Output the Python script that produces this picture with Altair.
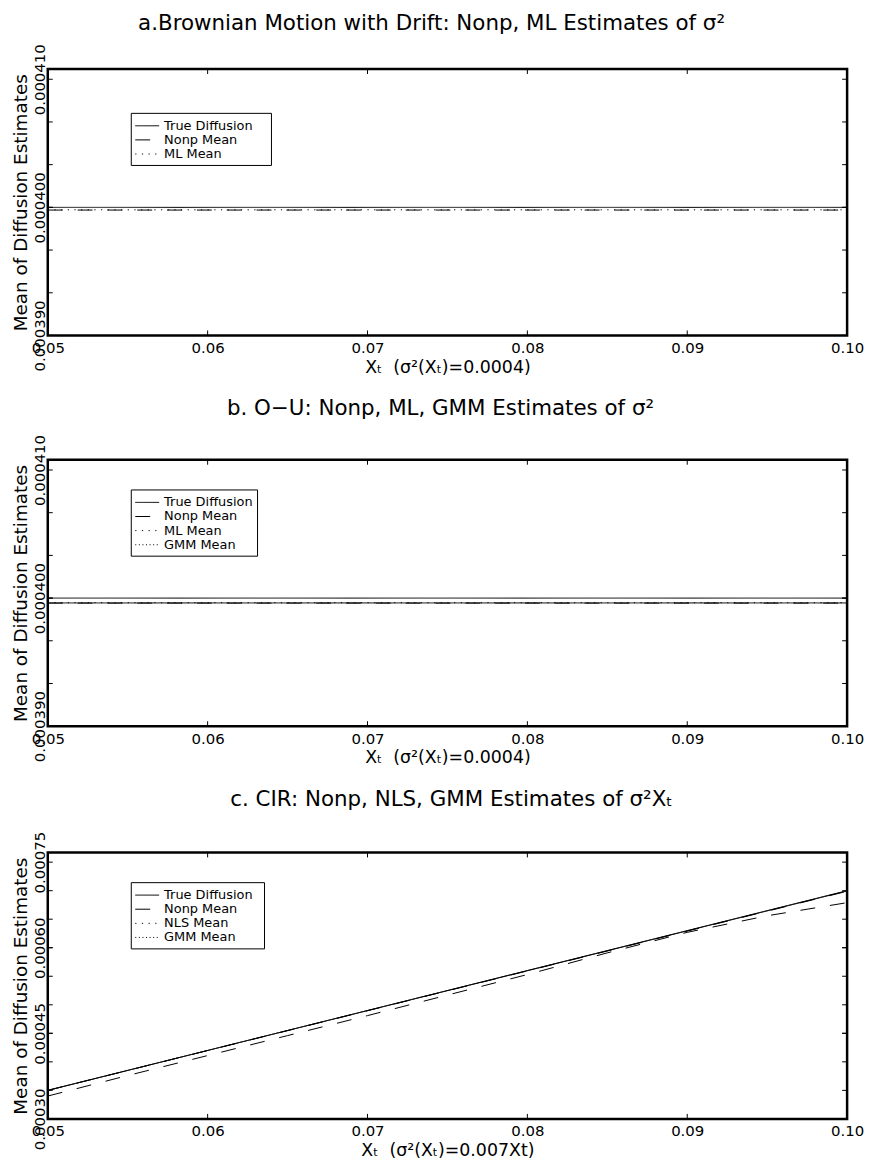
import altair as alt
import pandas as pd

FONT = "DejaVu Sans"
W, H = 804, 268
EXT = 10  # px of frame above the top labelled value

# ---------------- data ----------------
x_ends = [0.05, 0.10]

a_true = [0.00040, 0.00040]
a_nonp = [0.00039979, 0.00039979]
a_ml = [0.00039981, 0.00039981]

b_true = [0.00040, 0.00040]
b_nonp = [0.00039961, 0.00039961]
b_ml = [0.00039964, 0.00039964]
b_gmm = [0.00039962, 0.00039962]

c_x = [0.05, 0.055, 0.06, 0.065, 0.07, 0.075, 0.08, 0.085, 0.09, 0.095, 0.10]
c_nonp = [0.000340, 0.000376, 0.000411, 0.000446, 0.000481, 0.000517,
          0.000553, 0.000591, 0.000627, 0.000656, 0.000679]
c_true = [0.00035, 0.00070]
c_nls = [0.00035, 0.000699]
c_gmm = [0.00035, 0.0006995]

x_labels = [0.05, 0.06, 0.07, 0.08, 0.09, 0.10]
x_minor = [0.06, 0.07, 0.08, 0.09]
ab_ylabels = [0.00039, 0.00040, 0.00041]
ab_yticks = [0.000393333, 0.000396667, 0.0004, 0.000403333, 0.000406667]
ab_domain = [0.00039, 0.0004108]
c_ylabels = [0.00030, 0.00045, 0.00060, 0.00075]
c_yticks = [0.00035, 0.0004, 0.00045, 0.0005, 0.00055, 0.0006, 0.00065, 0.0007]
c_domain = [0.00030, 0.000767]

titles = [
    "a.Brownian Motion with Drift: Nonp, ML Estimates of σ²",
    "b. O\u2212U: Nonp, ML, GMM Estimates of σ²",
    "c. CIR: Nonp, NLS, GMM Estimates of σ²Xₜ",
]
x_titles = [
    "Xₜ\u00a0 (σ²(Xₜ)=0.0004)",
    "Xₜ\u00a0 (σ²(Xₜ)=0.0004)",
    "Xₜ\u00a0 (σ²(Xₜ)=0.007Xt)",
]
y_title = "Mean of Diffusion Estimates"

DASH = {
    "True Diffusion": [1, 0],
    "Nonp Mean": [15, 15],
    "ML Mean": [1.2, 5.5],
    "NLS Mean": [1.2, 5.5],
    "GMM Mean": [1, 2.6],
}


def long_df(series):
    rows = []
    for name, (xs, ys) in series.items():
        for xv, yv in zip(xs, ys):
            rows.append({"x": xv, "y": yv, "series": name})
    return pd.DataFrame(rows)


def panel(series, ydom, ylabels, yticks, yfmt, title, xtitle, legend_labels, box_w,
          title_dx, title_off):
    df = long_df(series)
    order = list(series.keys())
    xscale = alt.Scale(domain=[0.05, 0.10], nice=False, zero=False)
    yscale = alt.Scale(domain=ydom, nice=False, zero=False)
    xaxis = alt.Axis(values=x_labels, format=".2f", title=xtitle, ticks=False,
                     domain=False, grid=False, labelFlush=False, labelOverlap=False,
                     labelFont=FONT, labelFontSize=15, labelColor="black", labelPadding=5,
                     titleFont=FONT, titleFontSize=17.5, titleFontWeight="normal",
                     titleColor="black", titlePadding=3)
    yaxis = alt.Axis(values=ylabels, format=yfmt, title=y_title, ticks=False,
                     domain=False, grid=False, labelAngle=-90, labelAlign="center",
                     labelBaseline="alphabetic", labelOverlap=False, labelFlush=False,
                     labelFont=FONT, labelFontSize=15, labelColor="black", labelPadding=3,
                     titleFont=FONT, titleFontSize=18.5, titleFontWeight="normal",
                     titleColor="black", titlePadding=2)

    lines = alt.Chart(df).mark_line(color="black", strokeWidth=1).encode(
        x=alt.X("x:Q", scale=xscale, axis=xaxis),
        y=alt.Y("y:Q", scale=yscale, axis=yaxis),
        strokeDash=alt.StrokeDash("series:N", scale=alt.Scale(domain=order, range=[DASH[s] for s in order]), legend=None),
    )

    xt = pd.DataFrame({"x": x_minor})
    yt = pd.DataFrame({"y": yticks + ylabels})
    tk = 5
    layers = [lines]
    for y0, y1 in [(H, H - tk), (0, tk)]:
        layers.append(alt.Chart(xt).mark_rule(color="black", strokeWidth=1).encode(
            x=alt.X("x:Q", scale=xscale, axis=xaxis), y=alt.value(y0), y2=alt.value(y1)))
    for x0, x1 in [(0, tk), (W - tk, W)]:
        layers.append(alt.Chart(yt).mark_rule(color="black", strokeWidth=1).encode(
            y=alt.Y("y:Q", scale=yscale, axis=yaxis), x=alt.value(x0), x2=alt.value(x1)))

    # legend (styled box)
    one = pd.DataFrame({"k": [0]})
    n = len(legend_labels)
    rows = [EXT + 75.5 - 14.2 * (n - 1 - i) for i in range(n)]
    layers.append(alt.Chart(one).mark_rect(fill="white", stroke="black", strokeWidth=1).encode(
        x=alt.value(84), x2=alt.value(84 + box_w), y=alt.value(rows[0] - 12.5), y2=alt.value(EXT + 87)))
    for lab, ry in zip(legend_labels, rows):
        key = lab.strip()
        layers.append(alt.Chart(one).mark_rule(color="black", strokeWidth=1, strokeDash=DASH[key]).encode(
            x=alt.value(88), x2=alt.value(112), y=alt.value(ry)))
        txt = ("\u2002" + key) if lab.startswith(" ") else key
        layers.append(alt.Chart(one).mark_text(align="left", baseline="middle", font=FONT,
                                               fontSize=13, color="black").encode(
            x=alt.value(117), y=alt.value(ry), text=alt.value(txt)))

    return alt.layer(*layers).properties(
        width=W, height=H,
        title=alt.TitleParams(text=title, font=FONT, fontSize=21.5, fontWeight="normal",
                              color="black", anchor="middle", baseline="alphabetic",
                              frame="group", offset=title_off, dx=title_dx),
    )


pa = panel({"True Diffusion": (x_ends, a_true), "Nonp Mean": (x_ends, a_nonp), "ML Mean": (x_ends, a_ml)},
           ab_domain, ab_ylabels, ab_yticks, ".6f", titles[0], x_titles[0],
           ["True Diffusion", " Nonp Mean", " ML Mean"], 141, -16, -8)
pb = panel({"True Diffusion": (x_ends, b_true), "Nonp Mean": (x_ends, b_nonp), "ML Mean": (x_ends, b_ml),
            "GMM Mean": (x_ends, b_gmm)},
           ab_domain, ab_ylabels, ab_yticks, ".6f", titles[1], x_titles[1],
           ["True Diffusion", " Nonp Mean", "ML Mean", " GMM Mean"], 127, -7, -2)
pc = panel({"True Diffusion": (x_ends, c_true), "Nonp Mean": (c_x, c_nonp), "NLS Mean": (x_ends, c_nls),
            "GMM Mean": (x_ends, c_gmm)},
           c_domain, c_ylabels, c_yticks, ".5f", titles[2], x_titles[2],
           ["True Diffusion", " Nonp Mean", " NLS Mean", " GMM Mean"], 134, 4, 4)

chart = alt.vconcat(pa, pb, pc, spacing=19).properties(
    padding={"left": 2, "top": 0, "right": 0, "bottom": 0},
    background="white",
).configure_view(stroke="black", strokeWidth=2.5)

chart.save("out.html", embed_options={"renderer": "svg", "actions": False})
